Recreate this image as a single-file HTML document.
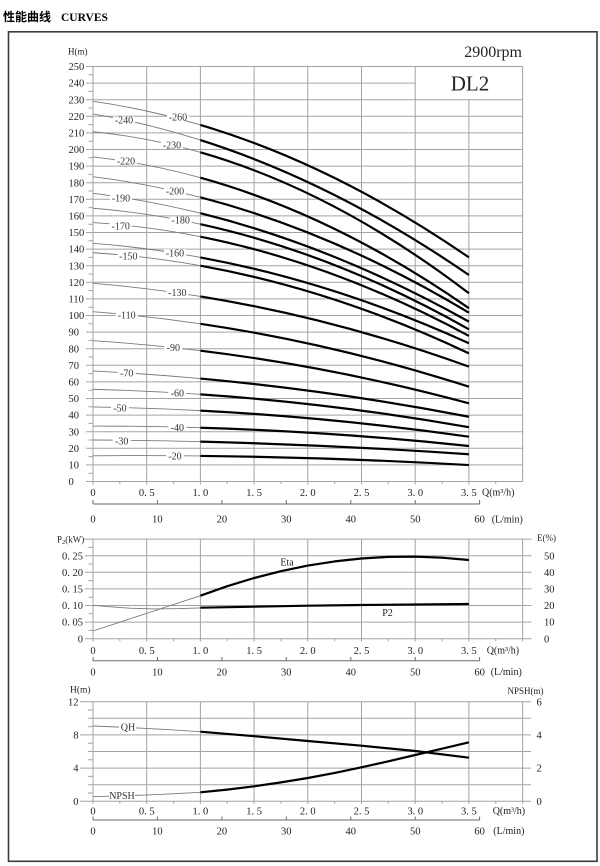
<!DOCTYPE html>
<html><head><meta charset="utf-8"><style>
html,body{margin:0;padding:0;background:#fff;}
svg{display:block;}
text{font-family:"Liberation Serif","Noto Serif CJK SC",serif;fill:#222;}
.t{font-size:10.5px;}
.s{font-size:10px;}
.lb{font-size:10px;fill:#333;}
</style></head><body>
<svg width="600" height="866" viewBox="0 0 600 866" xmlns="http://www.w3.org/2000/svg">
<rect x="0" y="0" width="600" height="866" fill="#fff"/>
<!-- Title -->
<text x="3" y="21" style="font-family:'Noto Sans CJK SC','WenQuanYi Zen Hei',sans-serif;font-size:12px;font-weight:bold;fill:#000">性能曲线</text>
<text x="61" y="21" style="font-size:11.5px;font-weight:bold;fill:#000">CURVES</text>
<!-- outer frame -->
<rect x="8.5" y="31.8" width="588.5" height="829.5" fill="none" stroke="#3a3a3a" stroke-width="1.6"/>

<!-- ================= TOP CHART ================= -->
<g stroke="#a3a3a3" stroke-width="1" fill="none">
<path d="M93 481.5H522.6M93 464.9H522.6M93 448.3H522.6M93 431.7H522.6M93 415.1H522.6M93 398.5H522.6M93 381.9H522.6M93 365.3H522.6M93 348.7H522.6M93 332.1H522.6M93 315.5H522.6M93 298.9H522.6M93 282.3H522.6M93 265.7H522.6M93 249.1H522.6M93 232.5H522.6M93 215.9H522.6M93 199.3H522.6M93 182.7H522.6M93 166.1H522.6M93 149.5H522.6M93 132.9H522.6M93 116.3H522.6M93 99.7H522.6M93 83.1H415.2M93 66.5H522.6"/>
<path d="M93 66.5V484.5M146.7 66.5V484.5M200.4 66.5V484.5M254.1 66.5V484.5M307.8 66.5V484.5M361.5 66.5V484.5M415.2 66.5V484.5M468.9 99.7V484.5M522.6 66.5V482"/>
<path d="M119.85 481.5V484M173.55 481.5V484M227.25 481.5V484M280.95 481.5V484M334.65 481.5V484M388.35 481.5V484M442.05 481.5V484M495.75 481.5V484"/>
<path d="M86 481.5H93M86 464.9H93M86 448.3H93M86 431.7H93M86 415.1H93M86 398.5H93M86 381.9H93M86 365.3H93M86 348.7H93M86 332.1H93M86 315.5H93M86 298.9H93M86 282.3H93M86 265.7H93M86 249.1H93M86 232.5H93M86 215.9H93M86 199.3H93M86 182.7H93M86 166.1H93M86 149.5H93M86 132.9H93M86 116.3H93M86 99.7H93M86 83.1H93M86 66.5H93"/>
<path d="M88.5 473.2H93M88.5 456.6H93M88.5 440H93M88.5 423.4H93M88.5 406.8H93M88.5 390.2H93M88.5 373.6H93M88.5 357H93M88.5 340.4H93M88.5 323.8H93M88.5 307.2H93M88.5 290.6H93M88.5 274H93M88.5 257.4H93M88.5 240.8H93M88.5 224.2H93M88.5 207.6H93M88.5 191H93M88.5 174.4H93M88.5 157.8H93M88.5 141.2H93M88.5 124.6H93M88.5 108H93M88.5 91.4H93M88.5 74.8H93"/>
</g>
<!-- L/min axis -->
<path d="M93 504H479.6M93 500V504M157.4 500V504M221.9 500V504M286.3 500V504M350.8 500V504M415.2 500V504M479.6 500V504" stroke="#6a6a6a" stroke-width="1" fill="none"/>
<!-- thin curve segments -->
<g stroke="#7a7a7a" stroke-width="0.9" fill="none">
<path d="M93 101.36Q146.7 108.95 200.4 124.93"/>
<path d="M93 113.98Q146.7 123.02 200.4 140.04"/>
<path d="M93 131.74Q146.7 136.92 200.4 152.32"/>
<path d="M93 156.97Q146.7 162.85 200.4 177.72"/>
<path d="M93 176.72Q146.7 183.36 200.4 197.31"/>
<path d="M93 193.32Q146.7 199.93 200.4 213.24"/>
<path d="M93 208.26Q146.7 212.5 200.4 224.2"/>
<path d="M93 222.54Q146.7 225.94 200.4 236.65"/>
<path d="M93 243.29Q146.7 247.46 200.4 257.4"/>
<path d="M93 252.75Q146.7 256.07 200.4 265.7"/>
<path d="M93 283.3Q146.7 287.71 200.4 296.41"/>
<path d="M93 311.68Q146.7 315.88 200.4 323.8"/>
<path d="M93 340.73Q146.7 344.13 200.4 350.69"/>
<path d="M93 370.94Q146.7 373.67 200.4 378.58"/>
<path d="M93 389.37Q146.7 390.7 200.4 394.35"/>
<path d="M93 406.97Q146.7 407.83 200.4 410.62"/>
<path d="M93 426.06Q146.7 426.07 200.4 427.72"/>
<path d="M93 440Q146.7 440.35 200.4 441.66"/>
<path d="M93 455.77Q146.7 455.35 200.4 455.94"/>
</g>
<!-- thick curve segments -->
<g stroke="#000" stroke-width="2.2" fill="none" stroke-linecap="butt">
<path d="M200.4 124.93Q334.65 164.9 468.9 257.4"/>
<path d="M200.4 140.04Q334.65 182.58 468.9 275"/>
<path d="M200.4 152.32Q334.65 190.83 468.9 293.26"/>
<path d="M200.4 177.72Q334.65 214.89 468.9 308.2"/>
<path d="M200.4 197.31Q334.65 232.17 468.9 312.68"/>
<path d="M200.4 213.24Q334.65 246.51 468.9 321.64"/>
<path d="M200.4 224.2Q334.65 253.43 468.9 329.28"/>
<path d="M200.4 236.65Q334.65 263.43 468.9 335.92"/>
<path d="M200.4 257.4Q334.65 282.27 468.9 343.22"/>
<path d="M200.4 265.7Q334.65 289.79 468.9 353.35"/>
<path d="M200.4 296.41Q334.65 318.16 468.9 366.63"/>
<path d="M200.4 323.8Q334.65 343.6 468.9 386.71"/>
<path d="M200.4 350.69Q334.65 367.11 468.9 403.31"/>
<path d="M200.4 378.58Q334.65 390.85 468.9 416.76"/>
<path d="M200.4 394.35Q334.65 403.5 468.9 427.22"/>
<path d="M200.4 410.62Q334.65 417.61 468.9 436.68"/>
<path d="M200.4 427.72Q334.65 431.8 468.9 445.98"/>
<path d="M200.4 441.66Q334.65 444.95 468.9 454.28"/>
<path d="M200.4 455.94Q334.65 457.39 468.9 465.07"/>
</g>
<!-- curve labels -->
<g fill="#fff">
<rect x="167" y="113.5" width="22" height="7"/>
<rect x="113" y="116.5" width="22" height="7"/>
<rect x="161" y="141.5" width="22" height="7"/>
<rect x="115" y="157.5" width="22" height="7"/>
<rect x="164" y="187.5" width="22" height="7"/>
<rect x="110" y="194.5" width="22" height="7"/>
<rect x="169.7" y="216.5" width="22" height="7"/>
<rect x="109.7" y="222.2" width="22" height="7"/>
<rect x="164" y="249.2" width="22" height="7"/>
<rect x="117.3" y="252.2" width="22" height="7"/>
<rect x="166.3" y="288.8" width="22" height="7"/>
<rect x="115.7" y="311.5" width="22" height="7"/>
<rect x="164.3" y="343.8" width="18" height="7"/>
<rect x="117.7" y="369.2" width="18" height="7"/>
<rect x="168.3" y="389.5" width="18" height="7"/>
<rect x="111" y="404.5" width="18" height="7"/>
<rect x="168.3" y="423.8" width="18" height="7"/>
<rect x="112.7" y="437.2" width="18" height="7"/>
<rect x="166" y="452.5" width="18" height="7"/>
</g>
<g class="lb" text-anchor="middle">
<text class="lb" x="178" y="120.6">-260</text>
<text class="lb" x="124" y="123.6">-240</text>
<text class="lb" x="172" y="148.6">-230</text>
<text class="lb" x="126" y="164.6">-220</text>
<text class="lb" x="175" y="194.6">-200</text>
<text class="lb" x="121" y="201.6">-190</text>
<text class="lb" x="180.7" y="223.6">-180</text>
<text class="lb" x="120.7" y="229.3">-170</text>
<text class="lb" x="175" y="256.3">-160</text>
<text class="lb" x="128.3" y="259.3">-150</text>
<text class="lb" x="177.3" y="295.9">-130</text>
<text class="lb" x="126.7" y="318.6">-110</text>
<text class="lb" x="173.3" y="350.9">-90</text>
<text class="lb" x="126.7" y="376.3">-70</text>
<text class="lb" x="177.3" y="396.6">-60</text>
<text class="lb" x="120" y="411.6">-50</text>
<text class="lb" x="177.3" y="430.9">-40</text>
<text class="lb" x="121.7" y="444.3">-30</text>
<text class="lb" x="175" y="459.6">-20</text>
</g>
<!-- top axis labels -->
<text x="68" y="54.5" style="font-size:9px">H(m)</text>
<text x="522" y="57" text-anchor="end" style="font-size:16px">2900rpm</text>
<text x="470" y="90.5" text-anchor="middle" style="font-size:21px">DL2</text>
<g class="t">
<text class="t" x="68.5" y="485.1">0</text>
<text class="t" x="68.5" y="468.5">10</text>
<text class="t" x="68.5" y="451.9">20</text>
<text class="t" x="68.5" y="435.3">30</text>
<text class="t" x="68.5" y="418.7">40</text>
<text class="t" x="68.5" y="402.1">50</text>
<text class="t" x="68.5" y="385.5">60</text>
<text class="t" x="68.5" y="368.9">70</text>
<text class="t" x="68.5" y="352.3">80</text>
<text class="t" x="68.5" y="335.7">90</text>
<text class="t" x="68.5" y="319.1">100</text>
<text class="t" x="68.5" y="302.5">110</text>
<text class="t" x="68.5" y="285.9">120</text>
<text class="t" x="68.5" y="269.3">130</text>
<text class="t" x="68.5" y="252.7">140</text>
<text class="t" x="68.5" y="236.1">150</text>
<text class="t" x="68.5" y="219.5">160</text>
<text class="t" x="68.5" y="202.9">170</text>
<text class="t" x="68.5" y="186.3">180</text>
<text class="t" x="68.5" y="169.7">190</text>
<text class="t" x="68.5" y="153.1">200</text>
<text class="t" x="68.5" y="136.5">210</text>
<text class="t" x="68.5" y="119.9">220</text>
<text class="t" x="68.5" y="103.3">230</text>
<text class="t" x="68.5" y="86.7">240</text>
<text class="t" x="68.5" y="70.1">250</text>
</g>
<g class="t" text-anchor="middle">
<text class="t" x="93" y="496">0</text>
<text class="t" x="146.7" y="496">0. 5</text>
<text class="t" x="200.4" y="496">1. 0</text>
<text class="t" x="254.1" y="496">1. 5</text>
<text class="t" x="307.8" y="496">2. 0</text>
<text class="t" x="361.5" y="496">2. 5</text>
<text class="t" x="415.2" y="496">3. 0</text>
<text class="t" x="468.9" y="496">3. 5</text>
<text class="t" x="93" y="522.7">0</text>
<text class="t" x="157.4" y="522.7">10</text>
<text class="t" x="221.9" y="522.7">20</text>
<text class="t" x="286.3" y="522.7">30</text>
<text class="t" x="350.8" y="522.7">40</text>
<text class="t" x="415.2" y="522.7">50</text>
<text class="t" x="479.6" y="522.7">60</text>
</g>
<text class="s" x="482" y="495.5">Q(m³/h)</text>
<text class="s" x="491.7" y="522.5">(L/min)</text>

<!-- ================= MIDDLE CHART ================= -->
<g stroke="#a3a3a3" stroke-width="1" fill="none">
<path d="M93 638.7H531.5M93 622.1H531.5M93 605.5H531.5M93 588.9H531.5M93 572.3H531.5M93 555.7H531.5M93 539.1H531.5"/>
<path d="M93 539.1V641.5M146.7 539.1V641.5M200.4 539.1V641.5M254.1 539.1V641.5M307.8 539.1V641.5M361.5 539.1V641.5M415.2 539.1V641.5M468.9 539.1V641.5M522.6 539.1V641.5"/>
<path d="M119.85 638.7V641.2M173.55 638.7V641.2M227.25 638.7V641.2M280.95 638.7V641.2M334.65 638.7V641.2M388.35 638.7V641.2M442.05 638.7V641.2M495.75 638.7V641.2"/>
<path d="M85 638.7H93M85 622.1H93M85 605.5H93M85 588.9H93M85 572.3H93M85 555.7H93M84 539.1H93M88.5 630.4H93M88.5 613.8H93M88.5 597.2H93M88.5 580.6H93M88.5 564H93M88.5 547.4H93"/>
</g>
<path d="M93 660.7H479.6M93 657V660.7M157.4 657V660.7M221.9 657V660.7M286.3 657V660.7M350.8 657V660.7M415.2 657V660.7M479.6 657V660.7" stroke="#6a6a6a" stroke-width="1" fill="none"/>
<g stroke="#7a7a7a" stroke-width="0.9" fill="none">
<path d="M93 631L200.4 595.7"/>
<path d="M93 605.3L110 606.8L130 608.2L155 608.9L180 608.6L200.4 607.9"/>
</g>
<g stroke="#000" stroke-width="2.2" fill="none" stroke-linejoin="round">
<polyline points="200.4,595.7 227.25,586.2 254.1,578 280.95,571.2 307.8,565.6 334.65,561.4 361.5,558.5 388.35,556.9 415.2,556.6 442.05,557.7 468.9,560"/>
<polyline points="200.4,607.7 307.8,605.7 361.5,605 468.9,604"/>
</g>
<text class="s" x="287" y="565.3" text-anchor="middle">Eta</text>
<text class="s" x="387.5" y="615.8" text-anchor="middle">P2</text>
<text x="57" y="542.3" style="font-size:9px">P<tspan style="font-size:6.5px" dy="1.5">2</tspan><tspan dy="-1.5">(kW)</tspan></text>
<g class="t" text-anchor="end">
<text class="t" x="83" y="642.3">0</text>
<text class="t" x="83" y="625.7">0. 05</text>
<text class="t" x="83" y="609.1">0. 10</text>
<text class="t" x="83" y="592.5">0. 15</text>
<text class="t" x="83" y="575.9">0. 20</text>
<text class="t" x="83" y="559.3">0. 25</text>
</g>
<g class="t">
<text class="t" x="544" y="642.3">0</text>
<text class="t" x="544" y="625.7">10</text>
<text class="t" x="544" y="609.1">20</text>
<text class="t" x="544" y="592.5">30</text>
<text class="t" x="544" y="575.9">40</text>
<text class="t" x="544" y="559.3">50</text>
</g>
<text x="537" y="541" style="font-size:9px">E(%)</text>
<g class="t" text-anchor="middle">
<text class="t" x="93" y="653.8">0</text>
<text class="t" x="146.7" y="653.8">0. 5</text>
<text class="t" x="200.4" y="653.8">1. 0</text>
<text class="t" x="254.1" y="653.8">1. 5</text>
<text class="t" x="307.8" y="653.8">2. 0</text>
<text class="t" x="361.5" y="653.8">2. 5</text>
<text class="t" x="415.2" y="653.8">3. 0</text>
<text class="t" x="468.9" y="653.8">3. 5</text>
<text class="t" x="93" y="675.3">0</text>
<text class="t" x="157.4" y="675.3">10</text>
<text class="t" x="221.9" y="675.3">20</text>
<text class="t" x="286.3" y="675.3">30</text>
<text class="t" x="350.8" y="675.3">40</text>
<text class="t" x="415.2" y="675.3">50</text>
<text class="t" x="479.6" y="675.3">60</text>
</g>
<text class="s" x="486.7" y="653.5">Q(m³/h)</text>
<text class="s" x="490.7" y="675">(L/min)</text>

<!-- ================= BOTTOM CHART ================= -->
<g stroke="#a3a3a3" stroke-width="1" fill="none">
<path d="M93 801.3H531M93 784.7H531M93 768.1H531M93 751.5H531M93 734.9H531M93 718.3H531M93 701.7H531"/>
<path d="M93 701.7V804M146.7 701.7V804M200.4 701.7V804M254.1 701.7V804M307.8 701.7V804M361.5 701.7V804M415.2 701.7V804M468.9 701.7V804M522.6 701.7V804"/>
<path d="M119.85 801.3V803.8M173.55 801.3V803.8M227.25 801.3V803.8M280.95 801.3V803.8M334.65 801.3V803.8M388.35 801.3V803.8M442.05 801.3V803.8M495.75 801.3V803.8"/>
<path d="M80 801.3H93M80 768.1H93M80 734.9H93M80 701.7H93M88 793H93M88 784.7H93M88 776.4H93M88 759.8H93M88 751.5H93M88 743.2H93M88 726.6H93M88 718.3H93M88 710H93"/>
</g>
<path d="M93 820H479.6M93 816.5V820M157.4 816.5V820M221.9 816.5V820M286.3 816.5V820M350.8 816.5V820M415.2 816.5V820M479.6 816.5V820" stroke="#6a6a6a" stroke-width="1" fill="none"/>
<g stroke="#7a7a7a" stroke-width="0.9" fill="none">
<path d="M93 726Q146.7 728 200.4 731.7"/>
<path d="M93 796.7Q146.7 795.5 200.4 792.3"/>
</g>
<g fill="#fff">
<rect x="119" y="723.5" width="17" height="7"/>
<rect x="109" y="791.8" width="26" height="7"/>
</g>
<text class="lb" x="128" y="730.6" text-anchor="middle">QH</text>
<text class="lb" x="122" y="798.9" text-anchor="middle">NPSH</text>
<g stroke="#000" stroke-width="2.2" fill="none" stroke-linejoin="round">
<polyline points="200.4,731.7 254.1,736.2 307.8,741 361.5,745.7 415.2,751 468.9,757.7"/>
<polyline points="200.4,792.3 227.25,789.6 254.1,786.3 280.95,782.4 307.8,778 334.65,772.9 361.5,767.3 388.35,761.3 415.2,755 442.05,748.7 468.9,742.3"/>
</g>
<text x="70" y="692.5" style="font-size:9.5px">H(m)</text>
<text x="507.5" y="693.8" style="font-size:9px">NPSH(m)</text>
<g class="t" text-anchor="end">
<text class="t" x="78.5" y="804.9">0</text>
<text class="t" x="78.5" y="771.7">4</text>
<text class="t" x="78.5" y="738.5">8</text>
<text class="t" x="78.5" y="705.3">12</text>
</g>
<g class="t">
<text class="t" x="536.5" y="804.9">0</text>
<text class="t" x="536.5" y="771.7">2</text>
<text class="t" x="536.5" y="738.5">4</text>
<text class="t" x="536.5" y="705.3">6</text>
</g>
<g class="t" text-anchor="middle">
<text class="t" x="93" y="814.5">0</text>
<text class="t" x="146.7" y="814.5">0. 5</text>
<text class="t" x="200.4" y="814.5">1. 0</text>
<text class="t" x="254.1" y="814.5">1. 5</text>
<text class="t" x="307.8" y="814.5">2. 0</text>
<text class="t" x="361.5" y="814.5">2. 5</text>
<text class="t" x="415.2" y="814.5">3. 0</text>
<text class="t" x="468.9" y="814.5">3. 5</text>
<text class="t" x="93" y="834.3">0</text>
<text class="t" x="157.4" y="834.3">10</text>
<text class="t" x="221.9" y="834.3">20</text>
<text class="t" x="286.3" y="834.3">30</text>
<text class="t" x="350.8" y="834.3">40</text>
<text class="t" x="415.2" y="834.3">50</text>
<text class="t" x="479.6" y="834.3">60</text>
</g>
<text class="s" x="492.7" y="814.2">Q(m³/h)</text>
<text class="s" x="493.3" y="834">(L/min)</text>
</svg>
</body></html>
